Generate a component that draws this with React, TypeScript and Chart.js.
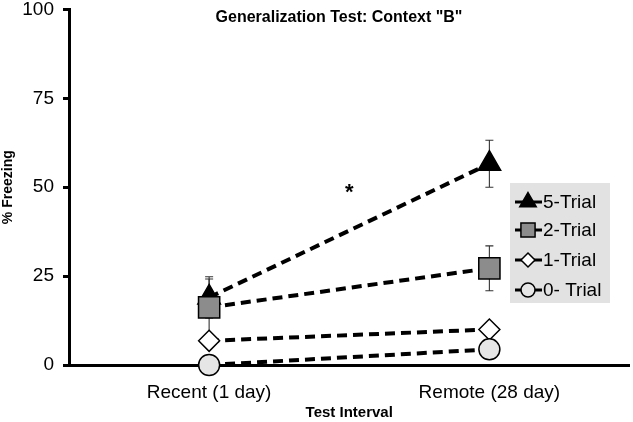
import React, { useEffect, useRef } from 'react';
import { Chart, registerables } from 'chart.js';

Chart.register(...registerables);

const categories = ['Recent (1 day)', 'Remote (28 day)'];
const seriesNames = ['5-Trial', '2-Trial', '1-Trial', '0- Trial'];
const fiveTrial = [19, 56.6];
const fiveTrialErr = [5.8, 6.6];
const twoTrial = [16.2, 27.2];
const twoTrialErr = [8, 6.3];
const oneTrial = [6.8, 10];
const zeroTrial = [0, 4.4];
const yTicks = [0, 25, 50, 75, 100];
const chartTitle = 'Generalization Test: Context "B"';
const yTitle = '% Freezing';
const xTitle = 'Test Interval';
const significance = '*';

const FONT = '"Liberation Sans", Arial, Helvetica, sans-serif';

// canvas placement inside the 633x422 window
const OFF_X = 0;
const OFF_Y = -11;
const CW = 646;
const CH = 434;

function drawMarker(ctx: CanvasRenderingContext2D, style: string, x: number, y: number, r: number, fill: string) {
  ctx.save();
  ctx.beginPath();
  if (style === 'triangle') {
    ctx.moveTo(x, y - r);
    ctx.lineTo(x + 0.866 * r, y + 0.5 * r);
    ctx.lineTo(x - 0.866 * r, y + 0.5 * r);
    ctx.closePath();
  } else if (style === 'rect') {
    const s = Math.SQRT1_2 * r;
    ctx.rect(x - s, y - s, 2 * s, 2 * s);
  } else if (style === 'rectRot') {
    ctx.moveTo(x - r, y);
    ctx.lineTo(x, y - r);
    ctx.lineTo(x + r, y);
    ctx.lineTo(x, y + r);
    ctx.closePath();
  } else {
    ctx.arc(x, y, r, 0, Math.PI * 2);
  }
  ctx.fillStyle = fill;
  ctx.fill();
  ctx.lineWidth = 1.5;
  ctx.strokeStyle = '#000';
  ctx.stroke();
  ctx.restore();
}

const errorBarPlugin = {
  id: 'errorBars',
  beforeDatasetsDraw(chart: any) {
    const ctx = chart.ctx;
    const yScale = chart.scales.y;
    chart.data.datasets.forEach((ds: any, di: number) => {
      if (!ds.errors) return;
      const meta = chart.getDatasetMeta(di);
      ds.errors.forEach((e: number, i: number) => {
        if (!e) return;
        const pt = meta.data[i];
        const v = ds.data[i];
        const yHi = yScale.getPixelForValue(v + e);
        const yLo = yScale.getPixelForValue(v - e);
        ctx.save();
        ctx.strokeStyle = '#333';
        ctx.lineWidth = 1.1;
        ctx.beginPath();
        ctx.moveTo(pt.x, yHi);
        ctx.lineTo(pt.x, yLo);
        ctx.moveTo(pt.x - 4, yHi);
        ctx.lineTo(pt.x + 4, yHi);
        ctx.moveTo(pt.x - 4, yLo);
        ctx.lineTo(pt.x + 4, yLo);
        ctx.stroke();
        ctx.restore();
      });
    });
  },
};

const decorPlugin = {
  id: 'decor',
  afterDraw(chart: any) {
    const ctx = chart.ctx;
    const xs = chart.scales.x;
    const ys = chart.scales.y;
    const ox = -OFF_X;
    const oy = -OFF_Y;
    ctx.save();
    // title
    ctx.fillStyle = '#000';
    ctx.font = `bold 16px ${FONT}`;
    ctx.textAlign = 'center';
    ctx.textBaseline = 'middle';
    ctx.fillText(chartTitle, 339 + ox, 18 + oy);
    // significance mark
    ctx.font = `bold 22px ${FONT}`;
    ctx.fillText(significance, xs.getPixelForValue(0.5), ys.getPixelForValue(48.5));
    // legend
    const bx = 510 + ox, by = 183 + oy, bw = 100, bh = 120;
    ctx.fillStyle = '#e2e2e2';
    ctx.fillRect(bx, by, bw, bh);
    const rows = [202, 230, 260, 290];
    chart.data.datasets.forEach((ds: any, i: number) => {
      const y = rows[i] + oy;
      ctx.strokeStyle = '#000';
      ctx.lineWidth = 3;
      ctx.setLineDash([]);
      ctx.beginPath();
      ctx.moveTo(515 + ox, y);
      ctx.lineTo(542 + ox, y);
      ctx.stroke();
      drawMarker(ctx, ds.pointStyle, 528 + ox, y, ds.legendRadius, ds.pointBackgroundColor);
      ctx.fillStyle = '#000';
      ctx.font = `19px ${FONT}`;
      ctx.textAlign = 'left';
      ctx.textBaseline = 'middle';
      ctx.fillText(ds.label, 543 + ox, y + 1);
    });
    ctx.restore();
  },
};

export default function App() {
  const ref = useRef<HTMLCanvasElement>(null);
  useEffect(() => {
    if (!ref.current) return;
    Chart.defaults.font.family = FONT;
    const common = {
      borderColor: '#000',
      borderWidth: 4,
      borderDash: [10, 6],
      pointBorderColor: '#000',
      pointBorderWidth: 1.5,
      clip: false,
    };
    const chart = new Chart(ref.current, {
      type: 'line',
      data: {
        labels: categories,
        datasets: [
          { ...common, label: seriesNames[0], data: fiveTrial, errors: fiveTrialErr, pointStyle: 'triangle', pointRadius: 13, pointBackgroundColor: '#000', legendRadius: 9.5, order: 2 } as any,
          { ...common, label: seriesNames[1], data: twoTrial, errors: twoTrialErr, pointStyle: 'rect', pointRadius: 15, pointBackgroundColor: '#8c8c8c', legendRadius: 10, order: 1 } as any,
          { ...common, label: seriesNames[2], data: oneTrial, pointStyle: 'rectRot', pointRadius: 10.5, pointBackgroundColor: '#ffffff', legendRadius: 7, order: 3 } as any,
          { ...common, label: seriesNames[3], data: zeroTrial, pointStyle: 'circle', pointRadius: 10.5, pointBackgroundColor: '#e6e6e6', legendRadius: 7, order: 0 } as any,
        ],
      },
      options: {
        responsive: false,
        animation: false,
        layout: { padding: { top: 0, right: 0, left: 0, bottom: 0 } },
        plugins: { legend: { display: false }, tooltip: { enabled: false }, title: { display: false } },
        scales: {
          x: {
            offset: true,
            afterFit: (scale: any) => { scale.height = 58; },
            grid: { display: false },
            border: { display: true, width: 3, color: '#000' },
            ticks: { color: '#000', font: { size: 19 }, padding: 8 },
            title: { display: true, text: xTitle, color: '#000', font: { size: 15, weight: 'bold' }, padding: { top: 0, bottom: 1 } },
          },
          y: {
            min: 0,
            max: 100,
            afterFit: (scale: any) => { scale.width = 69; },
            afterBuildTicks: (scale: any) => { scale.ticks = yTicks.map((v) => ({ value: v })); },
            grid: { display: true, drawOnChartArea: false, tickLength: 6, tickWidth: 3, tickColor: '#000' },
            border: { display: true, width: 3, color: '#000' },
            ticks: { color: '#000', font: { size: 19 }, padding: 9 },
            title: { display: true, text: yTitle, color: '#000', font: { size: 14, weight: 'bold' }, padding: { top: 0, bottom: 0 } },
          },
        },
      },
      plugins: [errorBarPlugin, decorPlugin],
    });
    return () => chart.destroy();
  }, []);
  return (
    <div style={{ position: 'fixed', left: 0, top: 0, width: 633, height: 422, background: '#fff', overflow: 'hidden' }}>
      <canvas ref={ref} width={CW} height={CH} style={{ position: 'absolute', left: OFF_X, top: OFF_Y }} />
    </div>
  );
}
